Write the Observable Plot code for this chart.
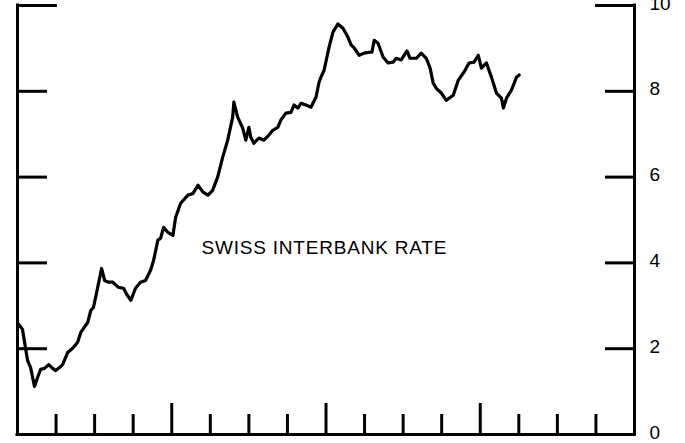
<!DOCTYPE html>
<html><head><meta charset="utf-8">
<script src="https://cdn.jsdelivr.net/npm/d3@7"></script>
<script src="https://cdn.jsdelivr.net/npm/@observablehq/plot@0.6"></script>
<style>html,body{margin:0;padding:0;background:#fff;} #chart svg{display:block}</style>
</head><body><div id="chart"></div>
<script>
// time in quarters from the start of the axis
const quarter = [0.03,0.13,0.26,0.34,0.44,0.52,0.60,0.70,0.81,0.91,0.99,1.09,1.17,1.30,1.43,1.56,1.64,1.82,1.90,1.97,
  2.08,2.18,2.26,2.36,2.47,2.62,2.75,2.83,2.94,3.06,3.19,3.32,3.45,3.53,3.64,3.71,3.79,3.90,4.03,4.10,
  4.23,4.42,4.55,4.68,4.81,4.94,5.06,5.19,5.32,5.45,5.58,5.61,5.71,5.84,5.92,6.00,6.05,6.13,6.26,6.39,
  6.52,6.62,6.75,6.83,6.96,7.09,7.17,7.27,7.35,7.48,7.61,7.74,7.82,7.87,7.95,8.08,8.18,8.31,8.44,8.57,
  8.65,8.73,8.86,8.99,9.12,9.19,9.25,9.35,9.48,9.61,9.74,9.82,9.95,10.10,10.18,10.34,10.47,10.60,10.70,10.78,
  10.86,10.99,11.12,11.30,11.43,11.58,11.71,11.84,11.95,12.03,12.16,12.29,12.42,12.55,12.60,12.68,12.81,12.94,13.01];
// Swiss interbank rate, percent
const rate = [2.57,2.45,1.73,1.56,1.12,1.33,1.52,1.54,1.63,1.54,1.49,1.56,1.63,1.91,2.01,2.15,2.38,2.61,2.89,2.96,
  3.43,3.87,3.59,3.55,3.55,3.43,3.41,3.27,3.13,3.41,3.55,3.59,3.83,4.06,4.53,4.57,4.83,4.71,4.64,5.06,
  5.39,5.58,5.62,5.81,5.65,5.58,5.69,6.00,6.46,6.86,7.40,7.75,7.40,7.14,6.86,7.16,6.93,6.79,6.91,6.86,
  6.98,7.09,7.16,7.33,7.49,7.51,7.68,7.61,7.72,7.68,7.63,7.86,8.21,8.33,8.49,9.03,9.38,9.57,9.47,9.26,
  9.08,9.01,8.84,8.89,8.91,8.91,9.19,9.12,8.80,8.66,8.68,8.77,8.73,8.94,8.77,8.77,8.89,8.77,8.54,8.19,
  8.07,7.96,7.79,7.91,8.26,8.45,8.66,8.68,8.84,8.54,8.66,8.33,7.96,7.84,7.61,7.84,8.03,8.33,8.38];

const xDomain = [0, 16];
const yDomain = [0, 10];
const yTicks = [2, 4, 6, 8];
const yTopTick = [10];
const yLabels = [0, 2, 4, 6, 8, 10];
const xQuarterTicks = [1, 2, 3, 5, 6, 7, 9, 10, 11, 13, 14, 15];
const xYearTicks = [4, 8, 12];
const seriesLabel = ["SWISS INTERBANK RATE"];
const labelQuarter = 4.77;
const labelRate = 4.34;

const data = quarter.map((q, i) => ({quarter: q, rate: rate[i]}));
const ink = "#000";
const font = "'Liberation Sans', Arial, Helvetica, sans-serif";

const chart = Plot.plot({
  width: 685,
  height: 443,
  marginLeft: 17,
  marginRight: 51,
  marginTop: 5,
  marginBottom: 9,
  style: {fontFamily: font, background: "#fff", color: ink, overflow: "visible"},
  x: {domain: xDomain, label: null},
  y: {domain: yDomain, label: null},
  marks: [
    // frame: left, right and bottom lines
    Plot.ruleX(xDomain, {y1: yDomain[0], y2: yDomain[1], stroke: ink, strokeWidth: 3, strokeLinecap: "square"}),
    Plot.ruleY([yDomain[0]], {x1: xDomain[0], x2: xDomain[1], stroke: ink, strokeWidth: 3, strokeLinecap: "square"}),
    // inward ticks on left and right
    Plot.axisY(yTicks, {anchor: "left", tickSize: -30, strokeWidth: 3, stroke: ink, fill: "none", label: null}),
    Plot.axisY(yTopTick, {anchor: "left", tickSize: -40, strokeWidth: 3, stroke: ink, fill: "none", label: null}),
    Plot.axisY(yTicks, {anchor: "right", tickSize: -30, strokeWidth: 3, stroke: ink, fill: "none", label: null}),
    Plot.axisY(yTopTick, {anchor: "right", tickSize: -40, strokeWidth: 3, stroke: ink, fill: "none", label: null}),
    // right labels
    Plot.axisY(yLabels, {anchor: "right", tickSize: 0, tickPadding: 15, dy: -2, fontSize: 19, fill: ink, label: null}),
    // bottom inward ticks
    Plot.axisX(xQuarterTicks, {anchor: "bottom", tickSize: -20, strokeWidth: 3, stroke: ink, fill: "none", label: null}),
    Plot.axisX(xYearTicks, {anchor: "bottom", tickSize: -31, strokeWidth: 3, stroke: ink, fill: "none", label: null}),
    // series
    Plot.line(data, {x: "quarter", y: "rate", stroke: ink, strokeWidth: 3.2, strokeLinejoin: "round", strokeLinecap: "round"}),
    Plot.text(seriesLabel, {x: labelQuarter, y: labelRate, text: d => d, textAnchor: "start", fontSize: 19, fill: ink})
  ]
});
chart.querySelectorAll('g[aria-label="text"] text').forEach(t => t.style.letterSpacing = "0.8px");
document.getElementById("chart").appendChild(chart);
</script>
</body></html>
